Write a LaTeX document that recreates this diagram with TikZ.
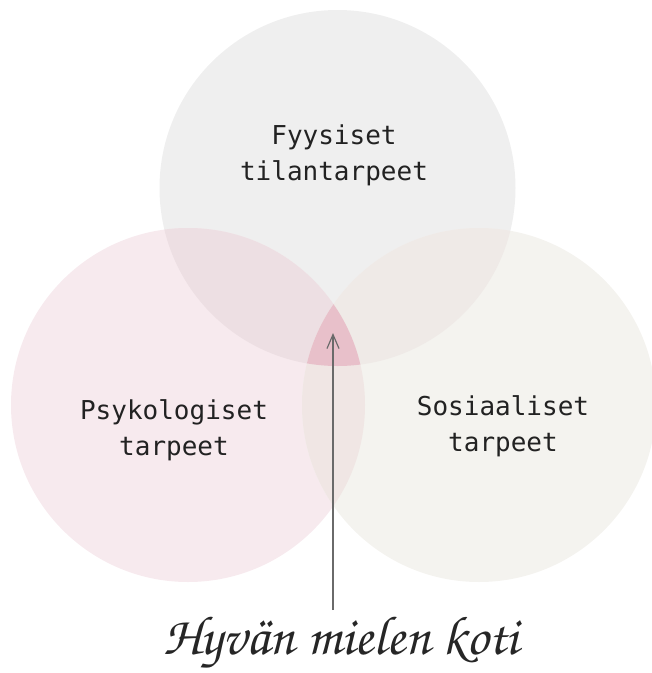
\documentclass[tikz,border=0pt]{standalone}
\usepackage[T1]{fontenc}
\usepackage{fontspec}
\setmonofont{DejaVu Sans Mono}
\usetikzlibrary{arrows.meta}
\definecolor{topc}{HTML}{EFEFEF}
\definecolor{leftc}{HTML}{F7EAEE}
\definecolor{rightc}{HTML}{F4F3EF}
\definecolor{tlc}{HTML}{EDDFE3}
\definecolor{trc}{HTML}{EFEAE7}
\definecolor{lrc}{HTML}{F0E6E4}
\definecolor{midc}{HTML}{E8C0CA}
\definecolor{txtc}{HTML}{222222}
\definecolor{arrc}{HTML}{6A6A6A}
\tikzset{
  lbl/.style={font=\ttfamily\fontsize{26}{36}\selectfont, text=txtc, align=center, inner sep=0pt},
  script/.style={font=\fontencoding{T1}\fontfamily{pzc}\fontseries{mb}\fontshape{it}\fontsize{55}{62}\selectfont, text=black!85, inner sep=0pt},
  pointer/.style={draw=arrc, line width=1.2pt, -{Straight Barb[length=14pt,width=12pt,line width=1.2pt]}}
}
\begin{document}
\begin{tikzpicture}[x=1pt,y=-1pt]
\useasboundingbox (0,0) rectangle (652,673);
\def\topcirc{(337.5,188) circle (178)}
\def\leftcirc{(188,405) circle (177)}
\def\rightcirc{(479,405) circle (177)}
\fill[topc] \topcirc;
\fill[leftc] \leftcirc;
\fill[rightc] \rightcirc;
\begin{scope}\clip \leftcirc; \fill[tlc] \topcirc; \end{scope}
\begin{scope}\clip \rightcirc; \fill[trc] \topcirc; \end{scope}
\begin{scope}\clip \leftcirc; \fill[lrc] \rightcirc; \end{scope}
\begin{scope}\clip \leftcirc; \clip \rightcirc; \fill[midc] \topcirc; \end{scope}
\node[lbl] (fyys) at (334,155) {Fyysiset\\tilantarpeet};
\node[lbl] (psyk) at (174,430) {Psykologiset\\tarpeet};
\node[lbl] (sos) at (503,426) {Sosiaaliset\\tarpeet};
\node[script] (koti) at (341,643) {Hyvän mielen koti};
\coordinate (arrstart) at (333,610);
\coordinate (arrtip) at (333,333);
\draw[pointer] (arrstart) -- (arrtip);
\end{tikzpicture}
\end{document}
